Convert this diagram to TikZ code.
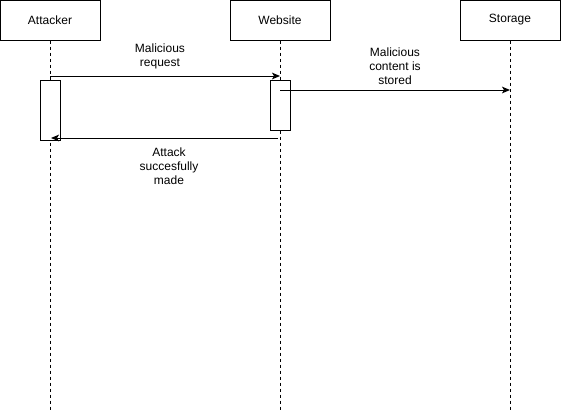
\documentclass[tikz,border=0pt]{standalone}
\usepackage{fontspec}
\setmainfont{Liberation Sans}
\usetikzlibrary{arrows.meta}
\begin{document}
\begin{tikzpicture}[x=0.75pt,y=-0.75pt,
  actor/.style={draw,line width=0.75pt,minimum width=75pt,minimum height=30pt,inner sep=0pt,font=\fontsize{9}{10}\selectfont},
  activation/.style={draw,fill=white,line width=0.75pt,minimum width=15pt,inner sep=0pt},
  lifeline/.style={dashed,dash pattern=on 2.25pt off 2.25pt,line width=0.75pt},
  msg/.style={line width=0.75pt,-{Stealth[length=6pt,width=5pt,inset=1.5pt]}},
  lbl/.style={align=center,font=\fontsize{9}{10.5}\selectfont}]
\useasboundingbox (0,0) rectangle (561,411);
% participants
\node[actor] (attacker) at (50,20) {Attacker};
\node[actor] (website) at (280,20) {Website};
\node[actor] (storage) at (510,20) {Storage};
% lifeline ends
\coordinate (attEnd) at (50,411);
\coordinate (webEnd) at (280,411);
\coordinate (stoEnd) at (510,411);
\draw[lifeline] (attacker.south) -- (attEnd);
\draw[lifeline] (website.south) -- (webEnd);
\draw[lifeline] (storage.south) -- (stoEnd);
% activations
\node[activation,minimum height=45pt] (attAct) at (50,110) {};
\node[activation,minimum height=37.5pt] (webAct) at (280,105) {};
% message anchors
\coordinate (m1s) at (50,76);
\coordinate (m1e) at (280,76);
\coordinate (m2s) at (280,90);
\coordinate (m2e) at (510,90);
\coordinate (m3s) at (278,138);
\coordinate (m3e) at (51,138);
\draw[msg] (m1s) -- (m1e);
\draw[msg] (m2s) -- (m2e);
\draw[msg] (m3s) -- (m3e);
% labels
\node[lbl] (l1) at (160,56) {Malicious\\request};
\node[lbl] (l2) at (395,66) {Malicious\\content is\\stored};
\node[lbl] (l3) at (169,166) {Attack\\succesfully\\made};
\end{tikzpicture}
\end{document}
